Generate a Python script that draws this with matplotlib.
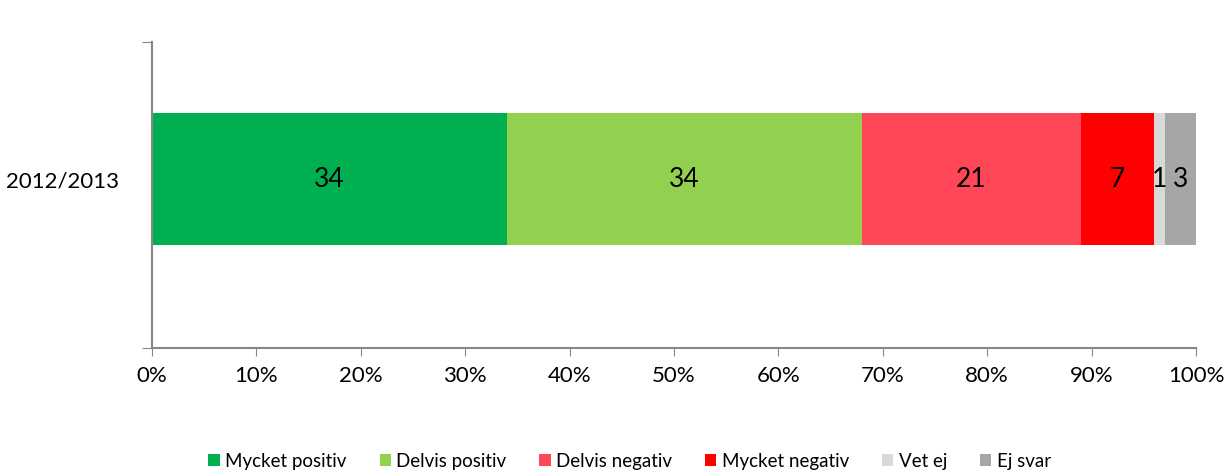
import matplotlib
matplotlib.use("Agg")
import matplotlib.pyplot as plt

plt.rcParams['font.family'] = ['Lato', 'DejaVu Sans']

period = "2012/2013"
categories = ["Mycket positiv", "Delvis positiv", "Delvis negativ", "Mycket negativ", "Vet ej", "Ej svar"]
values = [34, 34, 21, 7, 1, 3]
colors = ["#00B050", "#92D050", "#FF4757", "#FF0000", "#D9D9D9", "#A6A6A6"]

fig = plt.figure(figsize=(12.3, 4.7), dpi=100)
ax = fig.add_axes([152/1230, 1-348/470, (1196-152)/1230, (348-42)/470])

bar_y = 0.552
left = 0
for cat, val, col in zip(categories, values, colors):
    ax.barh(bar_y, val, left=left, height=0.431, color=col, label=cat)
    ax.text(left + val/2, bar_y, str(val), ha="center", va="center", fontsize=19)
    left += val

ax.set_xlim(0, 100)
ax.set_ylim(0, 1)
ax.set_xticks(range(0, 101, 10))
ax.set_xticklabels([f"{t}%" for t in range(0, 101, 10)], fontsize=16)
ax.set_yticks([0, 1])
ax.set_yticklabels([])
ax.set_yticks([bar_y], minor=True)
ax.set_yticklabels([period], minor=True, fontsize=16)
ax.tick_params(axis="y", which="minor", length=0, pad=24)
ax.tick_params(axis="y", which="major", length=7, color="#868686")
ax.tick_params(axis="x", length=6, color="#868686", pad=7)

for s in ["top", "right"]:
    ax.spines[s].set_visible(False)
for s in ["left", "bottom"]:
    ax.spines[s].set_color("#868686")
    ax.spines[s].set_linewidth(1.5)

fig.legend(loc="center", bbox_to_anchor=(0.512, 1-461/470), ncol=6, frameon=False,
           fontsize=13.5, handlelength=0.6, handleheight=0.6, handletextpad=0.3,
           columnspacing=1.75)

fig.savefig("out.png", dpi=100)
